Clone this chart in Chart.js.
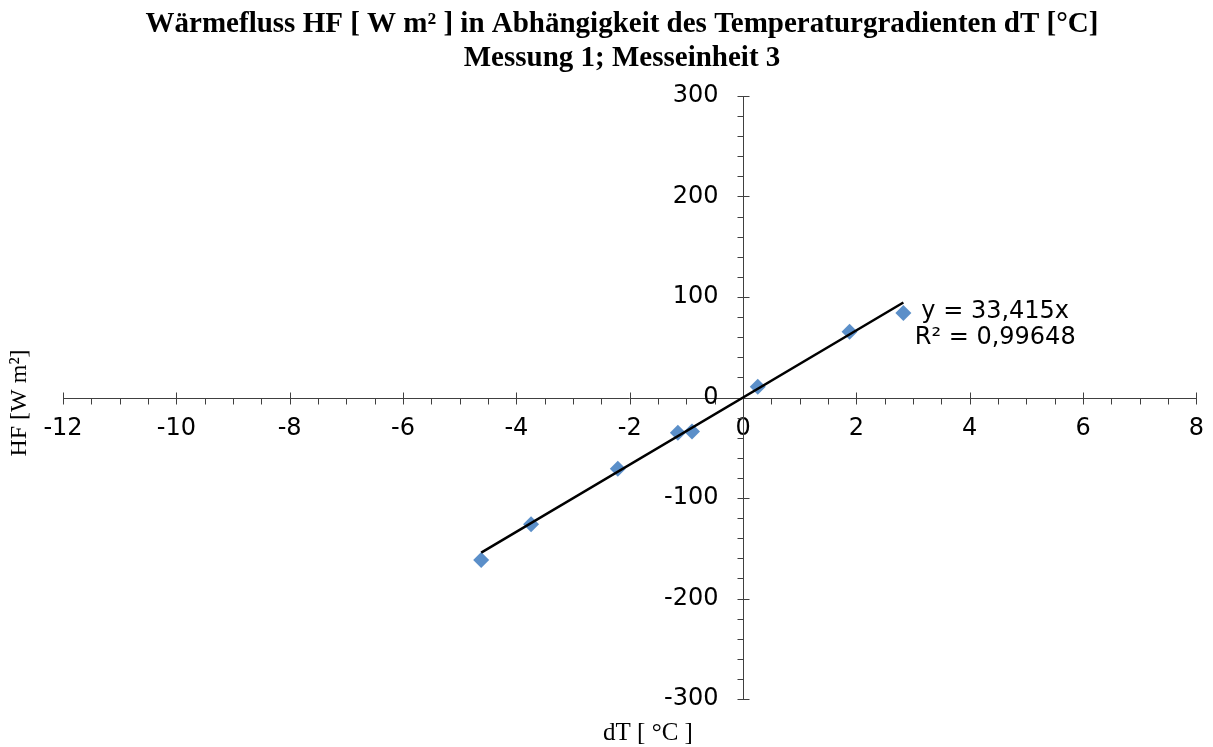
<!DOCTYPE html>
<html>
<head>
<meta charset="utf-8">
<script src="https://cdn.jsdelivr.net/npm/chart.js@4.4.1/dist/chart.umd.min.js"></script>
<style>
  html, body { margin: 0; padding: 0; background: #fff; }
</style>
</head>
<body>
<canvas id="hfChart" width="1213" height="747"></canvas>
<script>
// Messung 1; Messeinheit 3
const dT = [-4.62, -3.74, -2.21, -1.15, -0.90, 0.26, 1.88, 2.83];
const HF = [-161.8, -126.1, -71.0, -35.1, -33.8, 10.6, 65.4, 84.2];
const slope = 33.415;
const titleLines = ['Wärmefluss HF [ W m² ] in Abhängigkeit des Temperaturgradienten dT [°C]', 'Messung 1; Messeinheit 3'];
const trendText = ['y = 33,415x', 'R² = 0,99648'];
const xTickValues = [-12, -10, -8, -6, -4, -2, 0, 2, 4, 6, 8];
const yTickValues = [-300, -200, -100, 0, 100, 200, 300];

const points = dT.map((x, i) => ({ x: x, y: HF[i] }));
const xMin = Math.min(...dT), xMax = Math.max(...dT);
const trend = [{ x: xMin, y: slope * xMin }, { x: xMax, y: slope * xMax }];

const axisColor = '#404040';
const tickFont = '24px "DejaVu Sans"';

// axes through the origin, major ticks crossing, minor ticks on one side
const crossAxes = {
  id: 'crossAxes',
  beforeDatasetsDraw(chart) {
    const { ctx, scales: { x, y } } = chart;
    const x0 = Math.round(x.getPixelForValue(0)) + 0.5;
    const y0 = Math.round(y.getPixelForValue(0)) + 0.5;
    ctx.save();
    ctx.strokeStyle = axisColor;
    ctx.lineWidth = 1;
    ctx.beginPath();
    ctx.moveTo(x.left, y0); ctx.lineTo(x.right, y0);
    ctx.moveTo(x0, y.top); ctx.lineTo(x0, y.bottom);
    for (let v = x.min; v <= x.max + 1e-9; v += 0.5) {
      const px = Math.round(x.getPixelForValue(v)) + 0.5;
      const major = Math.abs(v % 2) < 1e-9;
      ctx.moveTo(px, major ? y0 - 6 : y0);
      ctx.lineTo(px, y0 + 6);
    }
    for (let v = y.min; v <= y.max + 1e-9; v += 20) {
      const py = Math.round(y.getPixelForValue(v)) + 0.5;
      const major = Math.abs(v % 100) < 1e-9;
      ctx.moveTo(x0 - 6, py);
      ctx.lineTo(major ? x0 + 6 : x0, py);
    }
    ctx.stroke();

    // y tick labels, right aligned left of the axis
    ctx.fillStyle = '#000';
    ctx.font = tickFont;
    ctx.textAlign = 'right';
    ctx.textBaseline = 'middle';
    y.ticks.forEach(t => {
      ctx.fillText(String(t.value), x0 - 25, y.getPixelForValue(t.value));
    });
    ctx.restore();
  },
  afterDraw(chart) {
    const { ctx, scales: { x, y } } = chart;
    ctx.save();
    ctx.fillStyle = '#000';
    ctx.textAlign = 'center';

    // title
    ctx.textBaseline = 'alphabetic';
    ctx.font = 'bold 29px "Liberation Serif"';
    ctx.fillText(titleLines[0], 622, 32);
    ctx.fillText(titleLines[1], 622, 66);

    // axis titles
    ctx.textBaseline = 'middle';
    ctx.font = '25px "Liberation Serif"';
    ctx.fillText('dT [ °C ]', 648, 733);
    ctx.font = '24px "Liberation Serif"';
    ctx.translate(20, 403);
    ctx.rotate(-Math.PI / 2);
    ctx.fillText('HF [W m²]', 0, 0);
    ctx.restore();

    // trendline label
    ctx.save();
    ctx.fillStyle = '#000';
    ctx.font = '24px "DejaVu Sans"';
    ctx.textAlign = 'center';
    ctx.textBaseline = 'alphabetic';
    const lx = x.getPixelForValue(4.45);
    const ly = y.getPixelForValue(79.6);
    ctx.fillText(trendText[0], lx, ly);
    ctx.fillText(trendText[1], lx, ly + 26);
    ctx.restore();
  }
};

new Chart(document.getElementById('hfChart'), {
  type: 'scatter',
  data: {
    datasets: [{
      label: 'Trend',
      type: 'line',
      data: trend,
      borderColor: '#000',
      borderWidth: 2.5,
      pointRadius: 0,
      fill: false,
      order: 0
    }, {
      label: 'HF',
      data: points,
      pointStyle: 'rectRot',
      pointRadius: 8,
      pointHoverRadius: 8,
      backgroundColor: '#5b8fc9',
      borderColor: '#5b8fc9',
      borderWidth: 0,
      order: 1
    }]
  },
  options: {
    responsive: false,
    animation: false,
    devicePixelRatio: 1,
    layout: { padding: { left: 63, right: 10, top: 96, bottom: 48 } },
    scales: {
      x: {
        type: 'linear',
        min: -12,
        max: 8,
        position: { y: 0 },
        afterBuildTicks: s => { s.ticks = xTickValues.map(v => ({ value: v })); },
        afterFit: s => { s.height = 0; },
        grid: { display: false },
        border: { display: false },
        ticks: {
          autoSkip: false,
          maxRotation: 0,
          padding: 9,
          color: '#000',
          font: { family: 'DejaVu Sans', size: 24 }
        }
      },
      y: {
        type: 'linear',
        min: -300,
        max: 300,
        position: { x: 0 },
        afterBuildTicks: s => { s.ticks = yTickValues.map(v => ({ value: v })); },
        afterFit: s => { s.width = 0; },
        grid: { display: false },
        border: { display: false },
        ticks: { display: false }
      }
    },
    plugins: {
      legend: { display: false },
      tooltip: { enabled: false },
      title: { display: false }
    }
  },
  plugins: [crossAxes]
});
</script>
</body>
</html>
